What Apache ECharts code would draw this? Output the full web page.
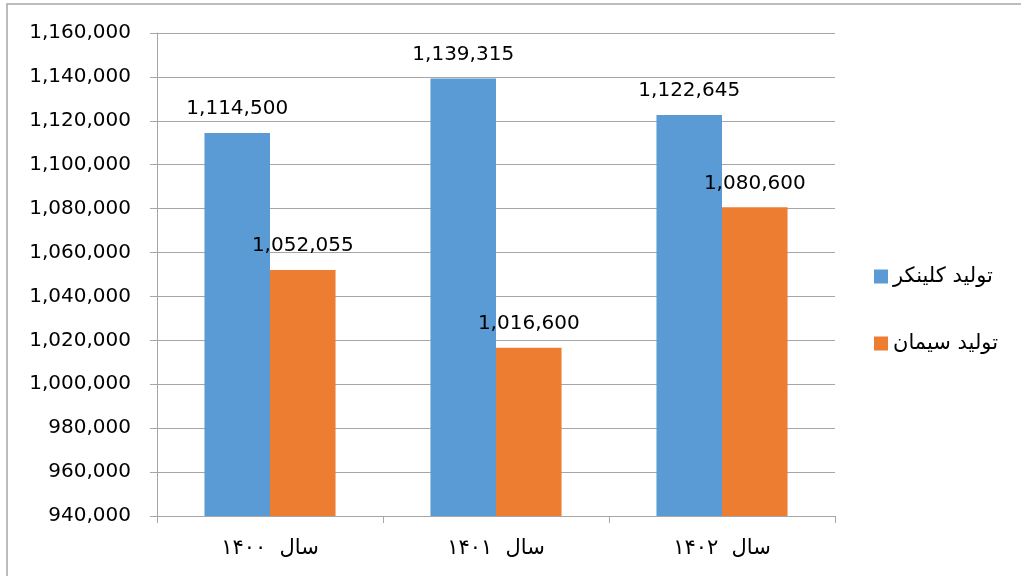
<!DOCTYPE html>
<html>
<head>
<meta charset="utf-8">
<script src="https://cdn.jsdelivr.net/npm/echarts@6/dist/echarts.min.js"></script>
<style>html,body{margin:0;padding:0;background:#fff;overflow:hidden}#c{width:1021px;height:576px}</style>
</head>
<body>
<div id="c"></div>
<script>
const categories = ['سال  ۱۴۰۰', 'سال  ۱۴۰۱', 'سال  ۱۴۰۲'];
const seriesNames = ['تولید کلینکر', 'تولید سیمان'];
const clinker = [1114500, 1139315, 1122645];
const cement = [1052055, 1016600, 1080600];
const yMin = 940000, yMax = 1160000, yStep = 20000;

const fmt = v => Number(v).toLocaleString('en-US');
const chart = echarts.init(document.getElementById('c'));
const labelStyle = {
  show: true, position: 'top', distance: 14,
  fontFamily: 'DejaVu Sans', fontSize: 20, color: '#000',
  formatter: p => fmt(p.value)
};
chart.setOption({
  animation: false,
  textStyle: { fontFamily: 'DejaVu Sans' },
  graphic: [{
    type: 'polyline', shape: { points: [[7, 600], [7, 4], [1030, 4]] },
    style: { fill: 'none', stroke: '#a6a6a6', lineWidth: 1.5 }, silent: true
  }],
  grid: { left: 157, right: 186, top: 33, bottom: 60 },
  legend: {
    orient: 'vertical', left: 874, top: 266, padding: 0,
    icon: 'rect', itemWidth: 14, itemHeight: 14, itemGap: 46,
    textStyle: { fontFamily: 'DejaVu Sans', fontSize: 21, color: '#000' },
    data: seriesNames
  },
  xAxis: {
    type: 'category', data: categories,
    axisLine: { lineStyle: { color: '#a6a6a6', width: 1 } },
    axisTick: { show: true, length: 7, lineStyle: { color: '#a6a6a6' } },
    axisLabel: { margin: 22, fontFamily: 'DejaVu Sans', fontSize: 21, color: '#000' }
  },
  yAxis: {
    type: 'value', min: yMin, max: yMax, interval: yStep,
    axisLine: { show: true, lineStyle: { color: '#a6a6a6', width: 1 } },
    axisTick: { show: true, length: 7, lineStyle: { color: '#a6a6a6' } },
    splitLine: { lineStyle: { color: '#a6a6a6', width: 1 } },
    axisLabel: { margin: 26, fontFamily: 'DejaVu Sans', fontSize: 20, color: '#000', formatter: v => fmt(v) }
  },
  series: [
    { name: seriesNames[0], type: 'bar', data: clinker, barGap: '0%', barCategoryGap: '42%',
      itemStyle: { color: '#5b9bd5' }, label: labelStyle },
    { name: seriesNames[1], type: 'bar', data: cement,
      itemStyle: { color: '#ed7d31' }, label: labelStyle }
  ]
});
</script>
</body>
</html>
